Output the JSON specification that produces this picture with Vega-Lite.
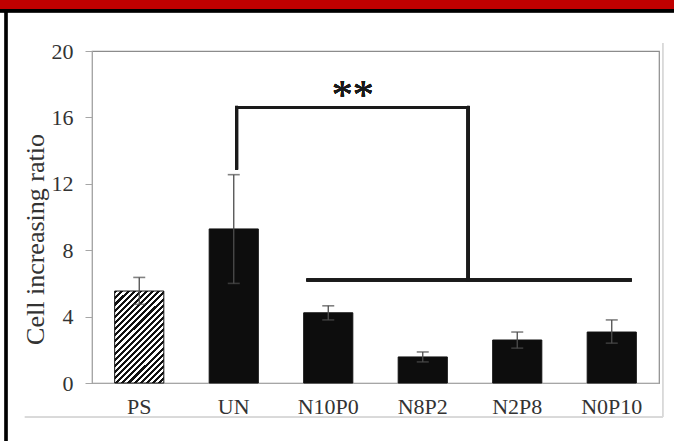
{
  "$schema": "https://vega.github.io/schema/vega-lite/v6.json",
  "usermeta": {"embedOptions": {"actions": false}},
  "width": 567,
  "height": 332,
  "autosize": {"type": "none"},
  "padding": {"left": 92, "top": 51, "right": 15, "bottom": 59},
  "background": "white",
  "config": {"view": {"stroke": "#8c8c8c", "strokeWidth": 1.2}, "font": "Liberation Serif"},
  "data": {"values": [
    {"group": "PS", "mean": 5.54, "lo": 4.74, "hi": 6.36},
    {"group": "UN", "mean": 9.28, "lo": 6.0, "hi": 12.55},
    {"group": "N10P0", "mean": 4.23, "lo": 3.8, "hi": 4.65},
    {"group": "N8P2", "mean": 1.57, "lo": 1.27, "hi": 1.87},
    {"group": "N2P8", "mean": 2.59, "lo": 2.1, "hi": 3.07},
    {"group": "N0P10", "mean": 3.07, "lo": 2.4, "hi": 3.8}
  ]},
  "resolve": {"scale": {"x": "independent"}, "axis": {"x": "independent"}},
  "layer": [
    {
      "layer": [
        {
          "mark": {"type": "bar"},
          "encoding": {
            "x": {"field": "group", "type": "nominal", "sort": null,
              "scale": {"paddingInner": 0.48, "paddingOuter": 0.24},
              "axis": {"title": null, "ticks": false, "labelAngle": 0, "domainColor": "#a6a6a6", "labelColor": "#333333", "labelFontSize": 22, "labelFont": "Liberation Serif", "labelPadding": 13}},
            "y": {"field": "mean", "type": "quantitative",
              "scale": {"domain": [0, 20], "nice": false},
              "axis": {"title": "Cell increasing ratio", "values": [0, 2, 4, 6, 8, 10, 12, 14, 16, 18, 20],
                "labelExpr": "datum.value % 4 === 0 ? datum.label : ''",
                "tickSize": {"condition": {"test": "datum.value % 4 === 0", "value": 7}, "value": 4},
                "grid": false, "domainColor": "#a6a6a6", "tickColor": "#a6a6a6", "labelColor": "#333333",
                "labelFontSize": 22, "labelFont": "Liberation Serif", "labelPadding": 12,
                "titleFontSize": 26, "titleFont": "Liberation Serif", "titleFontWeight": "normal", "titleColor": "#333333",
                "titleX": -57, "titleY": 188, "titleBaseline": "middle"}},
            "fill": {"condition": {"test": "datum.group === 'PS'", "value": {
              "gradient": "linear", "x1": 0, "y1": 0, "x2": 0.636, "y2": 1.194,
              "stops": [
                {"offset": 0, "color": "#111111"}, {"offset": 0.02174, "color": "#111111"}, {"offset": 0.02174, "color": "#ffffff"}, {"offset": 0.04348, "color": "#ffffff"},
                {"offset": 0.04348, "color": "#111111"}, {"offset": 0.06522, "color": "#111111"}, {"offset": 0.06522, "color": "#ffffff"}, {"offset": 0.08696, "color": "#ffffff"},
                {"offset": 0.08696, "color": "#111111"}, {"offset": 0.1087, "color": "#111111"}, {"offset": 0.1087, "color": "#ffffff"}, {"offset": 0.13043, "color": "#ffffff"},
                {"offset": 0.13043, "color": "#111111"}, {"offset": 0.15217, "color": "#111111"}, {"offset": 0.15217, "color": "#ffffff"}, {"offset": 0.17391, "color": "#ffffff"},
                {"offset": 0.17391, "color": "#111111"}, {"offset": 0.19565, "color": "#111111"}, {"offset": 0.19565, "color": "#ffffff"}, {"offset": 0.21739, "color": "#ffffff"},
                {"offset": 0.21739, "color": "#111111"}, {"offset": 0.23913, "color": "#111111"}, {"offset": 0.23913, "color": "#ffffff"}, {"offset": 0.26087, "color": "#ffffff"},
                {"offset": 0.26087, "color": "#111111"}, {"offset": 0.28261, "color": "#111111"}, {"offset": 0.28261, "color": "#ffffff"}, {"offset": 0.30435, "color": "#ffffff"},
                {"offset": 0.30435, "color": "#111111"}, {"offset": 0.32609, "color": "#111111"}, {"offset": 0.32609, "color": "#ffffff"}, {"offset": 0.34783, "color": "#ffffff"},
                {"offset": 0.34783, "color": "#111111"}, {"offset": 0.36957, "color": "#111111"}, {"offset": 0.36957, "color": "#ffffff"}, {"offset": 0.3913, "color": "#ffffff"},
                {"offset": 0.3913, "color": "#111111"}, {"offset": 0.41304, "color": "#111111"}, {"offset": 0.41304, "color": "#ffffff"}, {"offset": 0.43478, "color": "#ffffff"},
                {"offset": 0.43478, "color": "#111111"}, {"offset": 0.45652, "color": "#111111"}, {"offset": 0.45652, "color": "#ffffff"}, {"offset": 0.47826, "color": "#ffffff"},
                {"offset": 0.47826, "color": "#111111"}, {"offset": 0.5, "color": "#111111"}, {"offset": 0.5, "color": "#ffffff"}, {"offset": 0.52174, "color": "#ffffff"},
                {"offset": 0.52174, "color": "#111111"}, {"offset": 0.54348, "color": "#111111"}, {"offset": 0.54348, "color": "#ffffff"}, {"offset": 0.56522, "color": "#ffffff"},
                {"offset": 0.56522, "color": "#111111"}, {"offset": 0.58696, "color": "#111111"}, {"offset": 0.58696, "color": "#ffffff"}, {"offset": 0.6087, "color": "#ffffff"},
                {"offset": 0.6087, "color": "#111111"}, {"offset": 0.63043, "color": "#111111"}, {"offset": 0.63043, "color": "#ffffff"}, {"offset": 0.65217, "color": "#ffffff"},
                {"offset": 0.65217, "color": "#111111"}, {"offset": 0.67391, "color": "#111111"}, {"offset": 0.67391, "color": "#ffffff"}, {"offset": 0.69565, "color": "#ffffff"},
                {"offset": 0.69565, "color": "#111111"}, {"offset": 0.71739, "color": "#111111"}, {"offset": 0.71739, "color": "#ffffff"}, {"offset": 0.73913, "color": "#ffffff"},
                {"offset": 0.73913, "color": "#111111"}, {"offset": 0.76087, "color": "#111111"}, {"offset": 0.76087, "color": "#ffffff"}, {"offset": 0.78261, "color": "#ffffff"},
                {"offset": 0.78261, "color": "#111111"}, {"offset": 0.80435, "color": "#111111"}, {"offset": 0.80435, "color": "#ffffff"}, {"offset": 0.82609, "color": "#ffffff"},
                {"offset": 0.82609, "color": "#111111"}, {"offset": 0.84783, "color": "#111111"}, {"offset": 0.84783, "color": "#ffffff"}, {"offset": 0.86957, "color": "#ffffff"},
                {"offset": 0.86957, "color": "#111111"}, {"offset": 0.8913, "color": "#111111"}, {"offset": 0.8913, "color": "#ffffff"}, {"offset": 0.91304, "color": "#ffffff"},
                {"offset": 0.91304, "color": "#111111"}, {"offset": 0.93478, "color": "#111111"}, {"offset": 0.93478, "color": "#ffffff"}, {"offset": 0.95652, "color": "#ffffff"},
                {"offset": 0.95652, "color": "#111111"}, {"offset": 0.97826, "color": "#111111"}, {"offset": 0.97826, "color": "#ffffff"}, {"offset": 1, "color": "#ffffff"}
              ]}}, "value": "#0d0d0d"},
            "stroke": {"value": "#111111"},
            "strokeWidth": {"value": 1}
          }
        },
        {
          "mark": {"type": "rule", "color": "#4d4d4d", "strokeWidth": 1.3},
          "encoding": {
            "x": {"field": "group", "type": "nominal", "sort": null},
            "y": {"field": "lo", "type": "quantitative", "scale": {"domain": [0, 20], "nice": false}},
            "y2": {"field": "hi"}
          }
        },
        {
          "mark": {"type": "tick", "color": "#4d4d4d", "size": 12, "thickness": 1.6},
          "encoding": {
            "x": {"field": "group", "type": "nominal", "sort": null},
            "y": {"field": "hi", "type": "quantitative", "scale": {"domain": [0, 20], "nice": false}}
          }
        },
        {
          "mark": {"type": "tick", "color": "#4d4d4d", "size": 12, "thickness": 1.6},
          "encoding": {
            "x": {"field": "group", "type": "nominal", "sort": null},
            "y": {"field": "lo", "type": "quantitative", "scale": {"domain": [0, 20], "nice": false}}
          }
        }
      ]
    },
    {
      "mark": {"type": "rule", "color": "#d9d9d9", "strokeWidth": 1},
      "encoding": {
        "x": {"datum": -0.71, "type": "quantitative", "scale": {"domain": [0, 6], "nice": false, "zero": false}, "axis": null},
        "x2": {"datum": 6.04},
        "y": {"datum": -2.05, "type": "quantitative", "scale": {"domain": [0, 20], "nice": false}},
        "y2": {"datum": -2.05}
      }
    },
    {
      "mark": {"type": "rule", "color": "#d9d9d9", "strokeWidth": 1},
      "encoding": {
        "x": {"datum": 6.04, "type": "quantitative", "scale": {"domain": [0, 6], "nice": false, "zero": false}, "axis": null},
        "x2": {"datum": 6.04},
        "y": {"datum": -2.05, "type": "quantitative", "scale": {"domain": [0, 20], "nice": false}},
        "y2": {"datum": 20.48}
      }
    },
    {
      "mark": {"type": "rule", "color": "#1a1a1a", "strokeWidth": 3, "strokeCap": "square"},
      "encoding": {
        "x": {"datum": 1.53, "type": "quantitative", "scale": {"domain": [0, 6], "nice": false, "zero": false}, "axis": null},
        "x2": {"datum": 1.53},
        "y": {"datum": 12.95, "type": "quantitative", "scale": {"domain": [0, 20], "nice": false}},
        "y2": {"datum": 16.6}
      }
    },
    {
      "mark": {"type": "rule", "color": "#1a1a1a", "strokeWidth": 3, "strokeCap": "square"},
      "encoding": {
        "x": {"datum": 1.53, "type": "quantitative", "scale": {"domain": [0, 6], "nice": false, "zero": false}, "axis": null},
        "x2": {"datum": 3.98},
        "y": {"datum": 16.6, "type": "quantitative", "scale": {"domain": [0, 20], "nice": false}},
        "y2": {"datum": 16.6}
      }
    },
    {
      "mark": {"type": "rule", "color": "#1a1a1a", "strokeWidth": 3, "strokeCap": "square"},
      "encoding": {
        "x": {"datum": 3.98, "type": "quantitative", "scale": {"domain": [0, 6], "nice": false, "zero": false}, "axis": null},
        "x2": {"datum": 3.98},
        "y": {"datum": 6.2, "type": "quantitative", "scale": {"domain": [0, 20], "nice": false}},
        "y2": {"datum": 16.6}
      }
    },
    {
      "mark": {"type": "rule", "color": "#1a1a1a", "strokeWidth": 3},
      "encoding": {
        "x": {"datum": 2.27, "type": "quantitative", "scale": {"domain": [0, 6], "nice": false, "zero": false}, "axis": null},
        "x2": {"datum": 5.71},
        "y": {"datum": 6.2, "type": "quantitative", "scale": {"domain": [0, 20], "nice": false}},
        "y2": {"datum": 6.2}
      }
    },
    {
      "mark": {"type": "text", "text": "**", "font": "Liberation Serif", "fontSize": 42, "color": "#1a1a1a", "baseline": "alphabetic", "align": "center"},
      "encoding": {
        "x": {"datum": 2.76, "type": "quantitative", "scale": {"domain": [0, 6], "nice": false, "zero": false}, "axis": null},
        "y": {"datum": 16.5, "type": "quantitative", "scale": {"domain": [0, 20], "nice": false}}
      }
    },
    {
      "mark": {"type": "rule", "color": "#000000", "strokeWidth": 2.5},
      "encoding": {
        "x": {"datum": -0.91, "type": "quantitative", "scale": {"domain": [0, 6], "nice": false, "zero": false}, "axis": null},
        "x2": {"datum": -0.91},
        "y": {"datum": -3.5, "type": "quantitative", "scale": {"domain": [0, 20], "nice": false}},
        "y2": {"datum": 23.0}
      }
    },
    {
      "mark": {"type": "rect", "color": "#c00000"},
      "encoding": {
        "x": {"datum": -0.973, "type": "quantitative", "scale": {"domain": [0, 6], "nice": false, "zero": false}, "axis": null},
        "x2": {"datum": 6.158},
        "y": {"datum": 22.5, "type": "quantitative", "scale": {"domain": [0, 20], "nice": false}},
        "y2": {"datum": 23.07}
      }
    },
    {
      "mark": {"type": "rule", "color": "#000000", "strokeWidth": 3},
      "encoding": {
        "x": {"datum": -0.973, "type": "quantitative", "scale": {"domain": [0, 6], "nice": false, "zero": false}, "axis": null},
        "x2": {"datum": 6.158},
        "y": {"datum": 22.43, "type": "quantitative", "scale": {"domain": [0, 20], "nice": false}},
        "y2": {"datum": 22.43}
      }
    }
  ]
}
